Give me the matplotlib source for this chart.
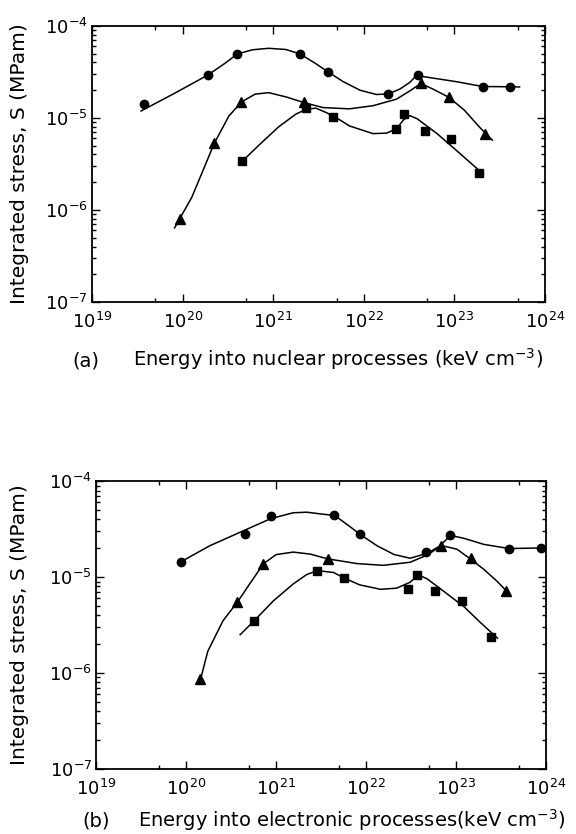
import numpy as np
import matplotlib
matplotlib.use("Agg")
import matplotlib.pyplot as plt
from matplotlib.ticker import LogLocator, NullFormatter

plt.rcParams["mathtext.fontset"] = "dejavusans"

# ── Panel (a): nuclear processes ─────────────────────────────────────────────
A_CIRC_X = [3.77e19, 1.92e20, 3.98e20, 1.97e21, 4.07e21, 1.86e22, 3.93e22, 2.05e23, 4.07e23]
A_CIRC_Y = [1.41e-5, 2.93e-5, 5.0e-5, 4.93e-5, 3.16e-5, 1.82e-5, 2.96e-5, 2.19e-5, 2.18e-5]
A_TRI_X  = [9.3e19, 2.22e20, 4.44e20, 2.2e21, 4.29e22, 8.7e22, 2.18e23]
A_TRI_Y  = [7.9e-7, 5.3e-6, 1.49e-5, 1.47e-5, 2.37e-5, 1.67e-5, 6.6e-6]
A_SQ_X   = [4.5e20, 2.29e21, 4.55e21, 2.28e22, 2.75e22, 4.8e22, 9.1e22, 1.85e23]
A_SQ_Y   = [3.39e-6, 1.27e-5, 1.03e-5, 7.6e-6, 1.09e-5, 7.2e-6, 5.9e-6, 2.54e-6]

# hand-drawn guide curves, log10 values
A_CIRC_LX = [19.54, 19.91, 20.28, 20.47, 20.60, 20.77, 20.95, 21.14, 21.29, 21.45, 21.61, 21.77,
             21.96, 22.14, 22.27, 22.40, 22.51, 22.59, 22.66, 23.03, 23.31, 23.61, 23.72]
A_CIRC_LY = [-4.925, -4.733, -4.533, -4.405, -4.307, -4.260, -4.244, -4.257, -4.303, -4.398, -4.503, -4.605,
             -4.700, -4.746, -4.740, -4.686, -4.613, -4.529, -4.552, -4.608, -4.659, -4.662, -4.664]
A_TRI_LX  = [19.91, 20.10, 20.35, 20.51, 20.65, 20.80, 20.95, 21.14, 21.34, 21.55, 21.84, 22.10,
             22.36, 22.51, 22.63, 22.77, 22.94, 23.11, 23.28, 23.42]
A_TRI_LY  = [-6.196, -5.864, -5.274, -4.980, -4.826, -4.742, -4.726, -4.772, -4.834, -4.888, -4.902, -4.868,
             -4.797, -4.706, -4.626, -4.690, -4.777, -4.916, -5.103, -5.242]
A_SQ_LX   = [20.62, 20.84, 21.06, 21.25, 21.36, 21.47, 21.58, 21.70, 21.84, 22.10, 22.25, 22.36,
             22.44, 22.51, 22.59, 22.81, 23.03, 23.32]
A_SQ_LY   = [-5.507, -5.298, -5.097, -4.959, -4.908, -4.894, -4.940, -5.000, -5.087, -5.171, -5.166, -5.119,
             -5.020, -4.976, -5.010, -5.172, -5.360, -5.611]

# ── Panel (b): electronic processes ──────────────────────────────────────────
B_CIRC_X = [8.8e19, 4.47e20, 8.7e20, 4.44e21, 8.57e21, 4.67e22, 8.65e22, 3.86e23, 8.87e23]
B_CIRC_Y = [1.44e-5, 2.79e-5, 4.36e-5, 4.44e-5, 2.8e-5, 1.81e-5, 2.77e-5, 1.98e-5, 2.03e-5]
B_TRI_X  = [1.43e20, 3.67e20, 7.2e20, 3.73e21, 6.86e22, 1.47e23, 3.63e23]
B_TRI_Y  = [8.6e-7, 5.5e-6, 1.38e-5, 1.55e-5, 2.13e-5, 1.57e-5, 7.1e-6]
B_SQ_X   = [5.7e20, 2.87e21, 5.7e21, 2.9e22, 3.67e22, 5.9e22, 1.17e23, 2.42e23]
B_SQ_Y   = [3.53e-6, 1.17e-5, 9.7e-6, 7.5e-6, 1.04e-5, 7.2e-6, 5.6e-6, 2.4e-6]

B_CIRC_LX = [19.94, 20.26, 20.65, 20.94, 21.19, 21.34, 21.52, 21.65, 21.82, 21.93, 22.12, 22.31,
             22.49, 22.68, 22.81, 22.94, 23.09, 23.31, 23.59, 23.94, 24.02]
B_CIRC_LY = [-4.841, -4.674, -4.511, -4.390, -4.329, -4.323, -4.344, -4.356, -4.473, -4.552, -4.672, -4.764,
             -4.803, -4.751, -4.681, -4.565, -4.596, -4.659, -4.702, -4.696, -4.697]
B_TRI_LX  = [20.16, 20.24, 20.41, 20.57, 20.71, 20.86, 21.00, 21.19, 21.38, 21.57, 21.90, 22.19,
             22.49, 22.68, 22.84, 23.01, 23.16, 23.31, 23.46, 23.57]
B_TRI_LY  = [-6.065, -5.774, -5.454, -5.260, -5.065, -4.860, -4.765, -4.739, -4.760, -4.809, -4.859, -4.877,
             -4.845, -4.769, -4.671, -4.709, -4.811, -4.920, -5.047, -5.155]
B_SQ_LX   = [20.60, 20.76, 20.97, 21.19, 21.34, 21.46, 21.64, 21.75, 21.93, 22.16, 22.34, 22.49,
             22.58, 22.68, 22.86, 23.09, 23.27, 23.46]
B_SQ_LY   = [-5.600, -5.451, -5.247, -5.071, -4.973, -4.932, -4.952, -5.007, -5.081, -5.127, -5.115, -5.053,
             -4.975, -5.019, -5.146, -5.310, -5.473, -5.636]

X_TICKS = [1e19, 1e20, 1e21, 1e22, 1e23, 1e24]
X_TICKLABELS = [r"$10^{19}$", r"$10^{20}$", r"$10^{21}$", r"$10^{22}$", r"$10^{23}$", r"$10^{24}$"]
Y_TICKS = [1e-7, 1e-6, 1e-5, 1e-4]
Y_TICKLABELS = [r"$10^{-7}$", r"$10^{-6}$", r"$10^{-5}$", r"$10^{-4}$"]
Y_LABEL = "Integrated stress, S (MPam)"

PANELS = [
    dict(rect=[0.160, 0.638, 0.786, 0.331],
         pts=[(A_CIRC_X, A_CIRC_Y, "o"), (A_TRI_X, A_TRI_Y, "^"), (A_SQ_X, A_SQ_Y, "s")],
         curves=[(A_CIRC_LX, A_CIRC_LY), (A_TRI_LX, A_TRI_LY), (A_SQ_LX, A_SQ_LY)],
         label="(a)", lx=72, text="Energy into nuclear processes (keV cm$^{-3}$)", tx=133, ty=0.561),
    dict(rect=[0.167, 0.078, 0.781, 0.345],
         pts=[(B_CIRC_X, B_CIRC_Y, "o"), (B_TRI_X, B_TRI_Y, "^"), (B_SQ_X, B_SQ_Y, "s")],
         curves=[(B_CIRC_LX, B_CIRC_LY), (B_TRI_LX, B_TRI_LY), (B_SQ_LX, B_SQ_LY)],
         label="(b)", lx=82, text="Energy into electronic processes(keV cm$^{-3}$)", tx=138, ty=0.009),
]
MS = {"o": 6, "^": 6.5, "s": 5.5}

fig = plt.figure(figsize=(5.76, 8.34), dpi=100)

for p in PANELS:
    ax = fig.add_axes(p["rect"])
    for lx, ly in p["curves"]:
        ax.plot(10 ** np.array(lx), 10 ** np.array(ly), color="black", lw=1.1)
    for xs, ys, m in p["pts"]:
        ax.plot(xs, ys, ls="none", marker=m, ms=MS[m], color="black")

    ax.set_xscale("log"); ax.set_yscale("log")
    ax.set_xlim(1e19, 1e24); ax.set_ylim(1e-7, 1e-4)
    ax.set_xticks(X_TICKS); ax.set_xticklabels(X_TICKLABELS)
    ax.set_yticks(Y_TICKS); ax.set_yticklabels(Y_TICKLABELS)
    ax.xaxis.set_minor_locator(LogLocator(base=10, subs=[5], numticks=20))
    ax.yaxis.set_minor_locator(LogLocator(base=10, subs=np.arange(2, 10), numticks=20))
    ax.xaxis.set_minor_formatter(NullFormatter())
    ax.yaxis.set_minor_formatter(NullFormatter())
    ax.tick_params(which="both", direction="in", top=True, right=True, width=1.0)
    ax.tick_params(which="major", length=6, labelsize=13)
    ax.tick_params(axis="x", which="major", pad=7)
    ax.tick_params(axis="y", which="major", pad=3)
    ax.tick_params(which="minor", length=3)
    for s in ax.spines.values():
        s.set_linewidth(1.3)

    r = p["rect"]
    fig.text(20 / 576, r[1] + r[3] / 2, Y_LABEL, fontsize=14.5, rotation=90,
             ha="center", va="center")
    fig.text(p["lx"] / 576, p["ty"], p["label"], fontsize=14, va="baseline")
    fig.text(p["tx"] / 576, p["ty"], p["text"], fontsize=14, va="baseline")

plt.savefig("out.png", dpi=100)
plt.close()
